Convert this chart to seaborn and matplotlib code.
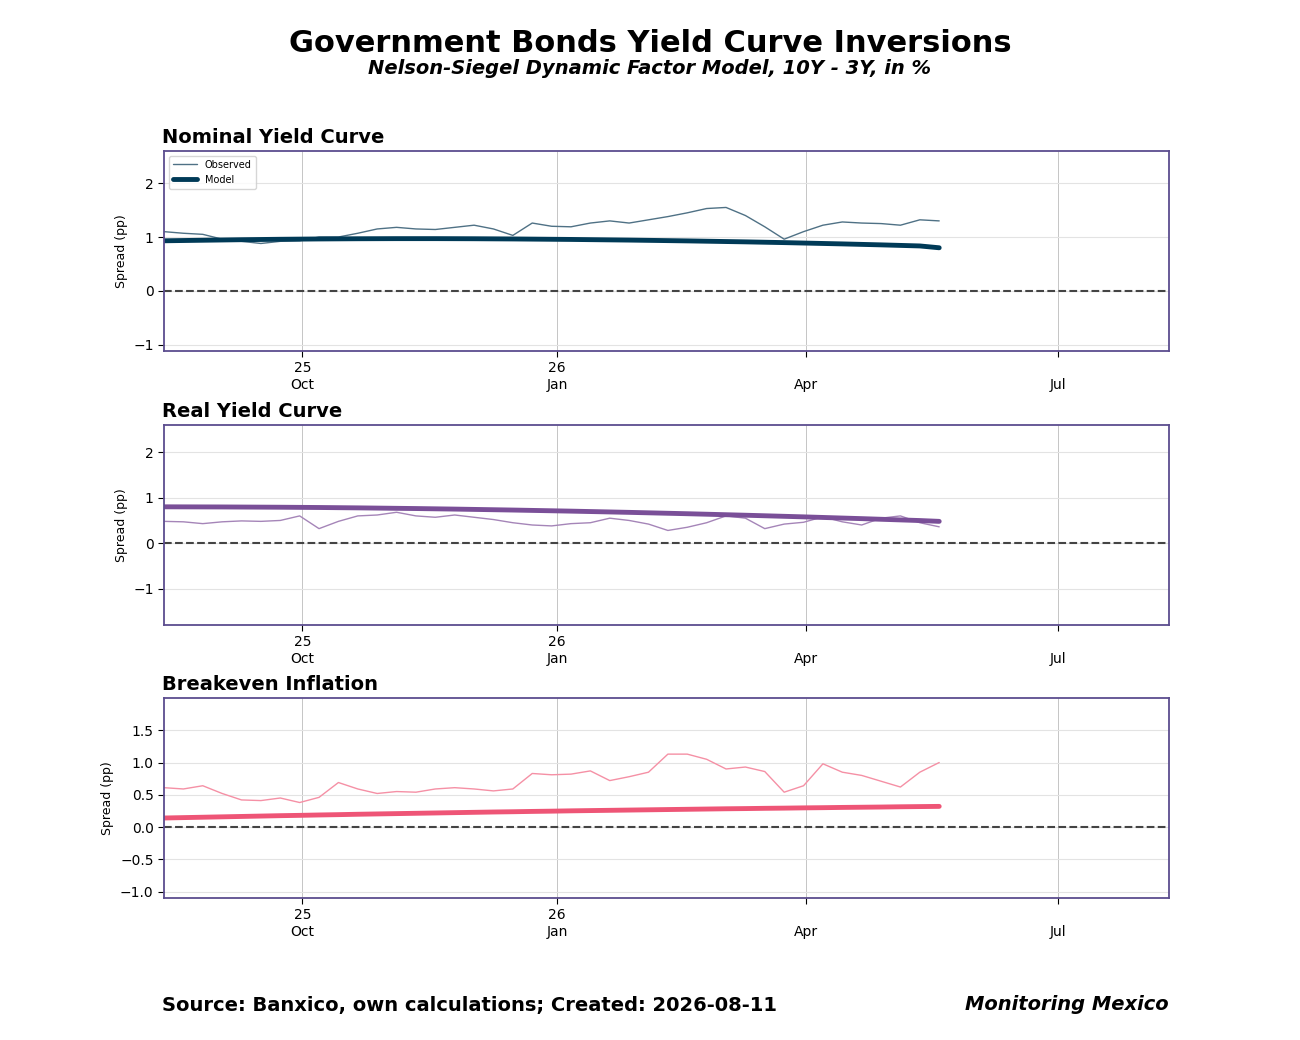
import pandas as pd
import numpy as np
import matplotlib.pyplot as plt
import seaborn as sns

# weekly readings, 10Y - 3Y spread in pp
dates = pd.date_range("2025-08-12", periods=41, freq="7D")

nominal_obs = [1.10, 1.07, 1.05, 0.96, 0.92, 0.88, 0.92, 0.93, 1.00, 1.00, 1.07,
               1.15, 1.18, 1.15, 1.14, 1.18, 1.22, 1.15, 1.03, 1.26, 1.20, 1.19,
               1.26, 1.30, 1.26, 1.32, 1.38, 1.45, 1.53, 1.55, 1.40, 1.19, 0.96,
               1.10, 1.22, 1.28, 1.26, 1.25, 1.22, 1.32, 1.30]
nominal_mod = [0.930, 0.935, 0.940, 0.945, 0.950, 0.954, 0.958, 0.961, 0.964, 0.966, 0.968,
               0.969, 0.970, 0.970, 0.970, 0.969, 0.968, 0.966, 0.964, 0.961, 0.958, 0.955,
               0.951, 0.947, 0.943, 0.938, 0.933, 0.928, 0.922, 0.916, 0.910, 0.903, 0.896,
               0.888, 0.880, 0.872, 0.863, 0.854, 0.844, 0.834, 0.800]

real_obs = [0.48, 0.47, 0.43, 0.47, 0.49, 0.48, 0.50, 0.60, 0.32, 0.48, 0.60,
            0.62, 0.68, 0.60, 0.57, 0.62, 0.57, 0.52, 0.45, 0.40, 0.38, 0.43,
            0.45, 0.55, 0.50, 0.42, 0.28, 0.35, 0.45, 0.60, 0.55, 0.32, 0.42,
            0.46, 0.58, 0.47, 0.40, 0.55, 0.60, 0.45, 0.36]
real_mod = [0.800, 0.799, 0.798, 0.797, 0.795, 0.793, 0.791, 0.788, 0.785, 0.781, 0.777,
            0.772, 0.767, 0.762, 0.756, 0.750, 0.743, 0.736, 0.729, 0.721, 0.713, 0.705,
            0.696, 0.687, 0.678, 0.668, 0.658, 0.648, 0.637, 0.626, 0.615, 0.603, 0.591,
            0.579, 0.566, 0.553, 0.540, 0.526, 0.512, 0.498, 0.480]

be_obs = [0.61, 0.59, 0.64, 0.52, 0.42, 0.41, 0.45, 0.38, 0.46, 0.69, 0.59,
          0.52, 0.55, 0.54, 0.59, 0.61, 0.59, 0.56, 0.59, 0.83, 0.81, 0.82,
          0.87, 0.72, 0.78, 0.85, 1.13, 1.13, 1.05, 0.90, 0.93, 0.86, 0.54,
          0.64, 0.98, 0.85, 0.80, 0.71, 0.62, 0.85, 1.00]
be_mod = [0.140, 0.146, 0.152, 0.158, 0.164, 0.170, 0.176, 0.181, 0.187, 0.192, 0.198,
          0.203, 0.208, 0.213, 0.218, 0.223, 0.228, 0.233, 0.237, 0.242, 0.246, 0.251,
          0.255, 0.259, 0.263, 0.267, 0.271, 0.275, 0.279, 0.283, 0.286, 0.290, 0.293,
          0.297, 0.300, 0.304, 0.307, 0.310, 0.314, 0.317, 0.320]

panels = [
    ("Nominal Yield Curve", nominal_obs, nominal_mod, "#4f7185", "#003a57", (-1.12, 2.6), [-1, 0, 1, 2]),
    ("Real Yield Curve", real_obs, real_mod, "#a585b8", "#7a4f98", (-1.8, 2.6), [-1, 0, 1, 2]),
    ("Breakeven Inflation", be_obs, be_mod, "#f590a5", "#ee5576", (-1.1, 2.0), [-1.0, -0.5, 0.0, 0.5, 1.0, 1.5]),
]

sns.set_style("white")
plt.rcParams.update({"text.color": "black", "axes.labelcolor": "black",
                     "xtick.color": "black", "ytick.color": "black"})
fig = plt.figure(figsize=(13, 10.4), dpi=100)
tops = [151, 425, 698]
tick_dates = pd.to_datetime(["2025-10-01", "2026-01-01", "2026-04-01", "2026-07-01"])
tick_labels = ["25\nOct", "26\nJan", "\nApr", "\nJul"]

for (title, obs, mod, c_obs, c_mod, ylim, yt), top in zip(panels, tops):
    ax = fig.add_axes([164 / 1300, 1 - (top + 200) / 1040, 1005 / 1300, 200 / 1040])
    df = pd.DataFrame({"date": dates, "obs": obs, "mod": mod})
    sns.lineplot(data=df, x="date", y="obs", ax=ax, color=c_obs, lw=1, label="Observed")
    sns.lineplot(data=df, x="date", y="mod", ax=ax, color=c_mod, lw=3.5, label="Model")
    ax.axhline(0, color="#444444", ls="--", lw=1.5)
    ax.set_xlim(pd.Timestamp("2025-08-12"), pd.Timestamp("2026-08-10"))
    ax.set_ylim(*ylim)
    ax.set_yticks(yt)
    ax.set_xticks(tick_dates)
    ax.set_xticklabels(tick_labels)
    ax.tick_params(axis="both", labelsize=10, length=4, bottom=True, left=True)
    ax.grid(axis="y", color="#e3e3e3", lw=0.8)
    ax.grid(axis="x", color="#bbbbbb", lw=0.6)
    for s in ax.spines.values():
        s.set_color("#5c4d8f")
        s.set_linewidth(1.3)
    ax.set_xlabel("")
    ax.set_ylabel("Spread (pp)", fontsize=9)
    ax.set_title(title, loc="left", fontsize=14, fontweight="bold", x=-0.002)
    if title.startswith("Nominal"):
        ax.legend(loc="upper left", fontsize=7, frameon=True, handlelength=2.5)
    else:
        ax.get_legend().remove()

fig.text(0.5, 1 - 44 / 1040, "Government Bonds Yield Curve Inversions", ha="center", va="center",
         fontsize=22, fontweight="bold")
fig.text(0.5, 1 - 69 / 1040, "Nelson-Siegel Dynamic Factor Model, 10Y - 3Y, in %", ha="center",
         va="center", fontsize=14, fontweight="bold", style="italic")
fig.text(162 / 1300, 1 - 1005 / 1040, "Source: Banxico, own calculations; Created: 2026-08-11",
         ha="left", va="center", fontsize=14, fontweight="bold")
fig.text(1169 / 1300, 1 - 1005 / 1040, "Monitoring Mexico", ha="right", va="center",
         fontsize=14, fontweight="bold", style="italic")

fig.savefig("out.png", dpi=100)
